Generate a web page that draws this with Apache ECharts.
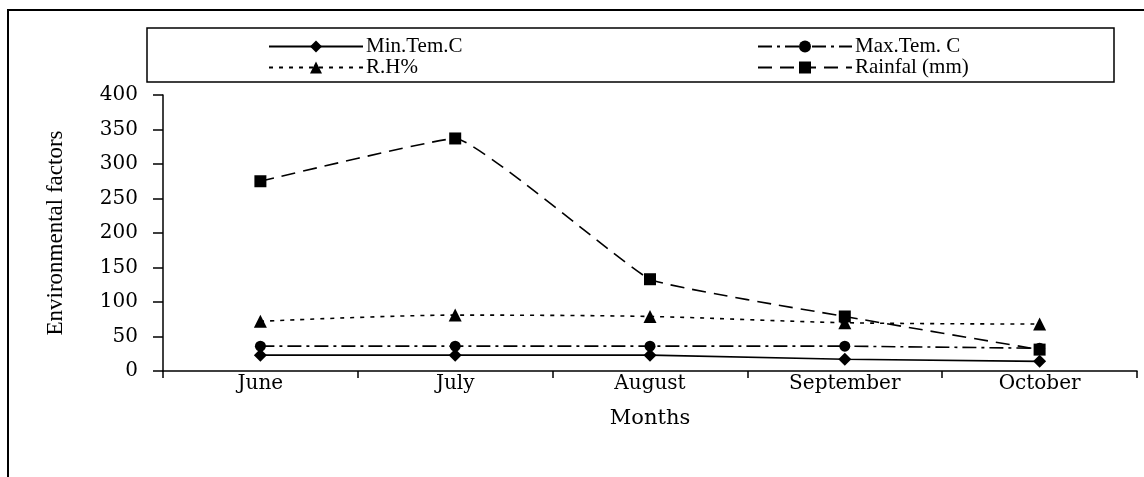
<!DOCTYPE html>
<html>
<head>
<meta charset="utf-8">
<script src="https://cdn.jsdelivr.net/npm/echarts@6/dist/echarts.min.js"></script>
<style>
  html, body { margin: 0; padding: 0; background: #fff; }
  #chart { width: 1144px; height: 477px; }
</style>
</head>
<body>
<div id="chart"></div>
<script>
// months on the x axis
var months = ["June", "July", "August", "September", "October"];
// series values
var minTem = [23, 23, 23, 17, 14];
var maxTem = [36, 36, 36, 36, 33];
var rh = [72, 81, 79, 70, 68];
var rainfall = [275, 337, 133, 79, 31];
// y axis
var yMin = 0, yMax = 400, yStep = 50;

var serif = "Liberation Serif";
var wide = "DejaVu Serif";
var black = "#000";

var chart = echarts.init(document.getElementById("chart"));

function lineSeries(name, data, symbol, size, dash, smooth) {
  return {
    name: name,
    type: "line",
    data: data,
    symbol: symbol,
    symbolSize: size,
    smooth: smooth,
    animation: false,
    itemStyle: { color: black },
    lineStyle: { color: black, width: 1.6, type: dash }
  };
}

var legendBase = {
  orient: "vertical",
  top: 31,
  itemWidth: 94,
  itemHeight: 15,
  itemGap: 0,
  textStyle: { fontFamily: serif, fontSize: 21, lineHeight: 21, color: black, padding: [0, 0, 0, -2] }
};

var option = {
  backgroundColor: "#fff",
  graphic: [
    {
      type: "rect",
      shape: { x: 8, y: 10, width: 1160, height: 490 },
      style: { fill: "none", stroke: black, lineWidth: 2 },
      silent: true
    },
    {
      type: "rect",
      shape: { x: 147, y: 28, width: 967, height: 54 },
      style: { fill: "none", stroke: black, lineWidth: 1.5 },
      silent: true
    }
  ],
  legend: [
    Object.assign({ left: 263, data: ["Min.Tem.C", "R.H%"] }, legendBase),
    Object.assign({ left: 752, data: ["Max.Tem. C", "Rainfal (mm)"] }, legendBase)
  ],
  grid: { left: 163, right: 7, top: 95, bottom: 106 },
  xAxis: {
    type: "category",
    data: months,
    boundaryGap: true,
    name: "Months",
    nameLocation: "middle",
    nameGap: 37,
    nameTextStyle: { fontFamily: wide, fontSize: 21, color: black },
    axisLine: { lineStyle: { color: black, width: 1.5 } },
    axisTick: { show: true, length: 7, inside: false, alignWithLabel: false, lineStyle: { color: black, width: 1.5 } },
    axisLabel: { fontFamily: wide, fontSize: 20, color: black, margin: 3 },
    splitLine: { show: false }
  },
  yAxis: {
    type: "value",
    min: yMin,
    max: yMax,
    interval: yStep,
    name: "Environmental factors",
    nameLocation: "middle",
    nameGap: 96,
    nameRotate: 90,
    nameTextStyle: { fontFamily: serif, fontSize: 23, color: black },
    axisLine: { show: true, lineStyle: { color: black, width: 1.5 } },
    axisTick: { show: true, length: 10, lineStyle: { color: black, width: 1.5 } },
    axisLabel: { fontFamily: wide, fontSize: 20, color: black, margin: 25 },
    splitLine: { show: false }
  },
  series: [
    lineSeries("Min.Tem.C", minTem, "diamond", 13, "solid", false),
    lineSeries("Max.Tem. C", maxTem, "circle", 11, [14, 5, 3, 5], false),
    lineSeries("R.H%", rh, "triangle", 13, [4, 6], 0.3),
    lineSeries("Rainfal (mm)", rainfall, "rect", 12, [14, 8], 0.1)
  ]
};

chart.setOption(option);
</script>
</body>
</html>
